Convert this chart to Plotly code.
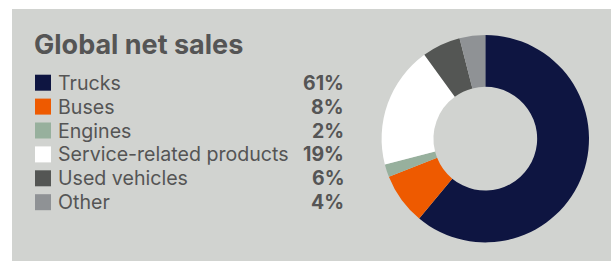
import plotly.graph_objects as go

W, H = 613, 261

categories = ["Trucks", "Buses", "Engines", "Service-related products", "Used vehicles", "Other"]
shares = [61, 8, 2, 19, 6, 4]
colors = ["#0e1541", "#ee5a00", "#97b09d", "#ffffff", "#545654", "#8f9295"]
title_text = "Global net sales"

FONT = "Inter, Roboto, Arial, sans-serif"
TXT = "#555555"
BG = "#d1d3d0"

def px(x):
    return x / W

def py(y):
    return 1 - y / H

fig = go.Figure()
fig.add_trace(go.Pie(
    labels=categories,
    values=shares,
    marker=dict(colors=colors, line=dict(width=0)),
    hole=0.5,
    sort=False,
    direction="clockwise",
    rotation=0,
    textinfo="none",
    hoverinfo="label+percent",
    showlegend=False,
    domain=dict(x=[px(381.6), px(589.0)], y=[py(242.4), py(35.0)]),
))

shapes = [dict(type="rect", xref="paper", yref="paper",
               x0=px(12), x1=px(611), y0=0, y1=py(9),
               fillcolor=BG, line=dict(width=0), layer="below")]
annotations = [dict(text="<b>" + title_text + "</b>", xref="paper", yref="paper",
                    x=px(31.8), y=py(44.5), xanchor="left", yanchor="middle",
                    showarrow=False, font=dict(family=FONT, size=27, color=TXT))]

row0, step = 82.7, 23.9
for i, (cat, val, col) in enumerate(zip(categories, shares, colors)):
    yc = row0 + i * step
    shapes.append(dict(type="rect", xref="paper", yref="paper",
                       x0=px(35), x1=px(51), y0=py(yc + 8), y1=py(yc - 8),
                       fillcolor=col, line=dict(width=0)))
    annotations.append(dict(text=cat, xref="paper", yref="paper",
                            x=px(55.5), y=py(yc), xanchor="left", yanchor="middle",
                            showarrow=False, font=dict(family=FONT, size=19.6, color=TXT)))
    annotations.append(dict(text="<b>%d%%</b>" % val, xref="paper", yref="paper",
                            x=px(346), y=py(yc), xanchor="right", yanchor="middle",
                            showarrow=False, font=dict(family=FONT, size=19.5, color=TXT)))

fig.update_layout(
    width=W, height=H,
    margin=dict(l=0, r=0, t=0, b=0),
    paper_bgcolor="#ffffff",
    plot_bgcolor="#ffffff",
    shapes=shapes,
    annotations=annotations,
)

fig.write_html("out.html", config={"displayModeBar": False},
               post_script="document.body.style.margin='0';document.body.style.padding='0';")
